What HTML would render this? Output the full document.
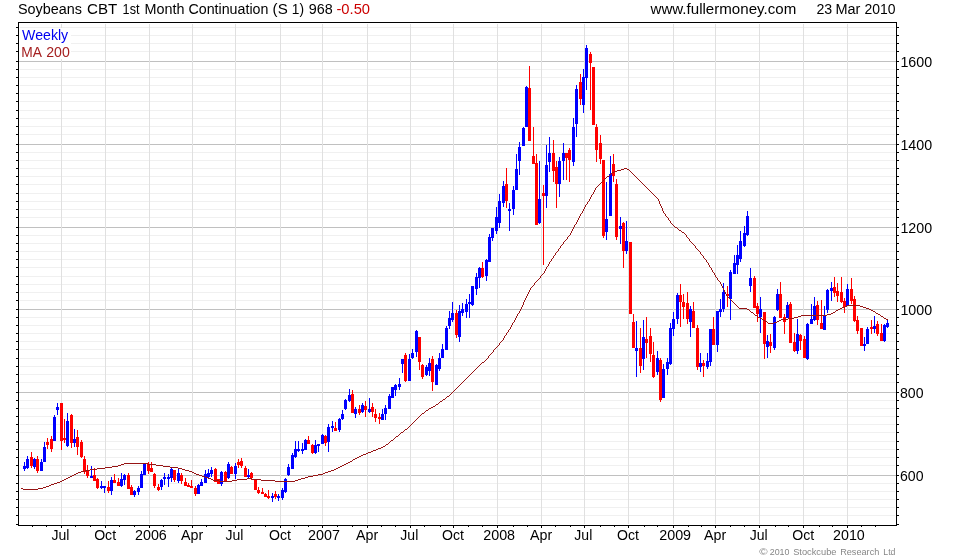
<!DOCTYPE html>
<html><head><meta charset="utf-8"><title>Soybeans CBT 1st Month Continuation</title>
<style>html,body{margin:0;padding:0;background:#fff}body{width:980px;height:560px;position:relative;overflow:hidden}</style></head>
<body>
<svg width="980" height="560" viewBox="0 0 980 560" style="position:absolute;left:0;top:0">
<rect width="980" height="560" fill="#fff"/>
<g shape-rendering="crispEdges">
<rect x="20" y="27" width="875" height="1" fill="#f0f0f0"/>
<rect x="20" y="35" width="875" height="1" fill="#f0f0f0"/>
<rect x="20" y="43" width="875" height="1" fill="#f0f0f0"/>
<rect x="20" y="51" width="875" height="1" fill="#f0f0f0"/>
<rect x="20" y="69" width="875" height="1" fill="#f0f0f0"/>
<rect x="20" y="77" width="875" height="1" fill="#f0f0f0"/>
<rect x="20" y="85" width="875" height="1" fill="#f0f0f0"/>
<rect x="20" y="93" width="875" height="1" fill="#f0f0f0"/>
<rect x="20" y="101" width="875" height="1" fill="#f0f0f0"/>
<rect x="20" y="110" width="875" height="1" fill="#f0f0f0"/>
<rect x="20" y="118" width="875" height="1" fill="#f0f0f0"/>
<rect x="20" y="126" width="875" height="1" fill="#f0f0f0"/>
<rect x="20" y="134" width="875" height="1" fill="#f0f0f0"/>
<rect x="20" y="152" width="875" height="1" fill="#f0f0f0"/>
<rect x="20" y="160" width="875" height="1" fill="#f0f0f0"/>
<rect x="20" y="168" width="875" height="1" fill="#f0f0f0"/>
<rect x="20" y="176" width="875" height="1" fill="#f0f0f0"/>
<rect x="20" y="184" width="875" height="1" fill="#f0f0f0"/>
<rect x="20" y="193" width="875" height="1" fill="#f0f0f0"/>
<rect x="20" y="201" width="875" height="1" fill="#f0f0f0"/>
<rect x="20" y="209" width="875" height="1" fill="#f0f0f0"/>
<rect x="20" y="217" width="875" height="1" fill="#f0f0f0"/>
<rect x="20" y="235" width="875" height="1" fill="#f0f0f0"/>
<rect x="20" y="243" width="875" height="1" fill="#f0f0f0"/>
<rect x="20" y="251" width="875" height="1" fill="#f0f0f0"/>
<rect x="20" y="259" width="875" height="1" fill="#f0f0f0"/>
<rect x="20" y="267" width="875" height="1" fill="#f0f0f0"/>
<rect x="20" y="276" width="875" height="1" fill="#f0f0f0"/>
<rect x="20" y="284" width="875" height="1" fill="#f0f0f0"/>
<rect x="20" y="292" width="875" height="1" fill="#f0f0f0"/>
<rect x="20" y="300" width="875" height="1" fill="#f0f0f0"/>
<rect x="20" y="317" width="875" height="1" fill="#f0f0f0"/>
<rect x="20" y="325" width="875" height="1" fill="#f0f0f0"/>
<rect x="20" y="333" width="875" height="1" fill="#f0f0f0"/>
<rect x="20" y="341" width="875" height="1" fill="#f0f0f0"/>
<rect x="20" y="349" width="875" height="1" fill="#f0f0f0"/>
<rect x="20" y="358" width="875" height="1" fill="#f0f0f0"/>
<rect x="20" y="366" width="875" height="1" fill="#f0f0f0"/>
<rect x="20" y="374" width="875" height="1" fill="#f0f0f0"/>
<rect x="20" y="382" width="875" height="1" fill="#f0f0f0"/>
<rect x="20" y="400" width="875" height="1" fill="#f0f0f0"/>
<rect x="20" y="408" width="875" height="1" fill="#f0f0f0"/>
<rect x="20" y="416" width="875" height="1" fill="#f0f0f0"/>
<rect x="20" y="424" width="875" height="1" fill="#f0f0f0"/>
<rect x="20" y="432" width="875" height="1" fill="#f0f0f0"/>
<rect x="20" y="441" width="875" height="1" fill="#f0f0f0"/>
<rect x="20" y="449" width="875" height="1" fill="#f0f0f0"/>
<rect x="20" y="457" width="875" height="1" fill="#f0f0f0"/>
<rect x="20" y="465" width="875" height="1" fill="#f0f0f0"/>
<rect x="20" y="483" width="875" height="1" fill="#f0f0f0"/>
<rect x="20" y="491" width="875" height="1" fill="#f0f0f0"/>
<rect x="20" y="499" width="875" height="1" fill="#f0f0f0"/>
<rect x="20" y="507" width="875" height="1" fill="#f0f0f0"/>
<rect x="20" y="515" width="875" height="1" fill="#f0f0f0"/>
<rect x="19" y="61" width="877" height="1" fill="#c0c0c0"/>
<rect x="19" y="144" width="877" height="1" fill="#c0c0c0"/>
<rect x="19" y="227" width="877" height="1" fill="#c0c0c0"/>
<rect x="19" y="309" width="877" height="1" fill="#c0c0c0"/>
<rect x="19" y="392" width="877" height="1" fill="#c0c0c0"/>
<rect x="19" y="475" width="877" height="1" fill="#c0c0c0"/>
<rect x="61" y="24" width="1" height="500" fill="#e0e0e0"/>
<rect x="105" y="24" width="1" height="500" fill="#e0e0e0"/>
<rect x="149" y="24" width="1" height="500" fill="#e0e0e0"/>
<rect x="192" y="24" width="1" height="500" fill="#e0e0e0"/>
<rect x="235" y="24" width="1" height="500" fill="#e0e0e0"/>
<rect x="280" y="24" width="1" height="500" fill="#e0e0e0"/>
<rect x="322" y="24" width="1" height="500" fill="#e0e0e0"/>
<rect x="367" y="24" width="1" height="500" fill="#e0e0e0"/>
<rect x="410" y="24" width="1" height="500" fill="#e0e0e0"/>
<rect x="453" y="24" width="1" height="500" fill="#e0e0e0"/>
<rect x="497" y="24" width="1" height="500" fill="#e0e0e0"/>
<rect x="541" y="24" width="1" height="500" fill="#e0e0e0"/>
<rect x="584" y="24" width="1" height="500" fill="#e0e0e0"/>
<rect x="628" y="24" width="1" height="500" fill="#e0e0e0"/>
<rect x="673" y="24" width="1" height="500" fill="#e0e0e0"/>
<rect x="715" y="24" width="1" height="500" fill="#e0e0e0"/>
<rect x="759" y="24" width="1" height="500" fill="#e0e0e0"/>
<rect x="803" y="24" width="1" height="500" fill="#e0e0e0"/>
<rect x="847" y="24" width="1" height="500" fill="#e0e0e0"/>
</g>
<g shape-rendering="crispEdges">
<rect x="24" y="462" width="1" height="9" fill="#0000ff"/>
<rect x="23" y="466" width="3" height="3" fill="#0000ff"/>
<rect x="27" y="456" width="1" height="13" fill="#0000ff"/>
<rect x="26" y="459" width="3" height="9" fill="#0000ff"/>
<rect x="31" y="452" width="1" height="16" fill="#ff0000"/>
<rect x="30" y="457" width="3" height="9" fill="#ff0000"/>
<rect x="34" y="458" width="1" height="11" fill="#0000ff"/>
<rect x="33" y="459" width="3" height="8" fill="#0000ff"/>
<rect x="37" y="456" width="1" height="17" fill="#ff0000"/>
<rect x="36" y="459" width="3" height="12" fill="#ff0000"/>
<rect x="41" y="459" width="1" height="12" fill="#0000ff"/>
<rect x="40" y="462" width="3" height="9" fill="#0000ff"/>
<rect x="44" y="442" width="1" height="20" fill="#0000ff"/>
<rect x="43" y="447" width="3" height="15" fill="#0000ff"/>
<rect x="47" y="438" width="1" height="11" fill="#ff0000"/>
<rect x="46" y="442" width="3" height="3" fill="#ff0000"/>
<rect x="51" y="436" width="1" height="16" fill="#ff0000"/>
<rect x="50" y="439" width="3" height="10" fill="#ff0000"/>
<rect x="54" y="415" width="1" height="26" fill="#0000ff"/>
<rect x="53" y="417" width="3" height="24" fill="#0000ff"/>
<rect x="57" y="403" width="1" height="12" fill="#0000ff"/>
<rect x="56" y="407" width="3" height="3" fill="#0000ff"/>
<rect x="61" y="403" width="1" height="47" fill="#ff0000"/>
<rect x="60" y="403" width="3" height="38" fill="#ff0000"/>
<rect x="64" y="419" width="1" height="24" fill="#ff0000"/>
<rect x="63" y="438" width="3" height="2" fill="#ff0000"/>
<rect x="67" y="413" width="1" height="34" fill="#0000ff"/>
<rect x="66" y="421" width="3" height="25" fill="#0000ff"/>
<rect x="71" y="414" width="1" height="34" fill="#ff0000"/>
<rect x="70" y="415" width="3" height="28" fill="#ff0000"/>
<rect x="74" y="429" width="1" height="18" fill="#0000ff"/>
<rect x="73" y="439" width="3" height="4" fill="#0000ff"/>
<rect x="77" y="430" width="1" height="25" fill="#ff0000"/>
<rect x="76" y="437" width="3" height="10" fill="#ff0000"/>
<rect x="81" y="440" width="1" height="18" fill="#ff0000"/>
<rect x="80" y="442" width="3" height="15" fill="#ff0000"/>
<rect x="84" y="456" width="1" height="18" fill="#ff0000"/>
<rect x="83" y="459" width="3" height="13" fill="#ff0000"/>
<rect x="87" y="465" width="1" height="13" fill="#ff0000"/>
<rect x="86" y="471" width="3" height="5" fill="#ff0000"/>
<rect x="91" y="466" width="1" height="12" fill="#0000ff"/>
<rect x="90" y="476" width="3" height="2" fill="#0000ff"/>
<rect x="94" y="468" width="1" height="13" fill="#ff0000"/>
<rect x="93" y="475" width="3" height="6" fill="#ff0000"/>
<rect x="97" y="478" width="1" height="11" fill="#ff0000"/>
<rect x="96" y="479" width="3" height="9" fill="#ff0000"/>
<rect x="101" y="481" width="1" height="8" fill="#0000ff"/>
<rect x="100" y="486" width="3" height="2" fill="#0000ff"/>
<rect x="104" y="486" width="1" height="7" fill="#0000ff"/>
<rect x="103" y="486" width="3" height="2" fill="#0000ff"/>
<rect x="108" y="481" width="1" height="12" fill="#ff0000"/>
<rect x="107" y="487" width="3" height="4" fill="#ff0000"/>
<rect x="111" y="477" width="1" height="18" fill="#0000ff"/>
<rect x="110" y="480" width="3" height="11" fill="#0000ff"/>
<rect x="114" y="474" width="1" height="9" fill="#ff0000"/>
<rect x="113" y="480" width="3" height="3" fill="#ff0000"/>
<rect x="118" y="478" width="1" height="8" fill="#ff0000"/>
<rect x="117" y="482" width="3" height="4" fill="#ff0000"/>
<rect x="121" y="473" width="1" height="14" fill="#0000ff"/>
<rect x="120" y="479" width="3" height="7" fill="#0000ff"/>
<rect x="124" y="474" width="1" height="11" fill="#0000ff"/>
<rect x="123" y="475" width="3" height="5" fill="#0000ff"/>
<rect x="128" y="473" width="1" height="16" fill="#ff0000"/>
<rect x="127" y="475" width="3" height="14" fill="#ff0000"/>
<rect x="131" y="485" width="1" height="10" fill="#ff0000"/>
<rect x="130" y="487" width="3" height="8" fill="#ff0000"/>
<rect x="134" y="490" width="1" height="7" fill="#0000ff"/>
<rect x="133" y="491" width="3" height="4" fill="#0000ff"/>
<rect x="138" y="486" width="1" height="9" fill="#0000ff"/>
<rect x="137" y="488" width="3" height="4" fill="#0000ff"/>
<rect x="141" y="471" width="1" height="17" fill="#0000ff"/>
<rect x="140" y="474" width="3" height="14" fill="#0000ff"/>
<rect x="144" y="463" width="1" height="12" fill="#0000ff"/>
<rect x="143" y="464" width="3" height="11" fill="#0000ff"/>
<rect x="148" y="462" width="1" height="12" fill="#ff0000"/>
<rect x="147" y="464" width="3" height="7" fill="#ff0000"/>
<rect x="151" y="462" width="1" height="10" fill="#ff0000"/>
<rect x="150" y="468" width="3" height="4" fill="#ff0000"/>
<rect x="154" y="473" width="1" height="15" fill="#ff0000"/>
<rect x="153" y="474" width="3" height="12" fill="#ff0000"/>
<rect x="158" y="484" width="1" height="7" fill="#ff0000"/>
<rect x="157" y="487" width="3" height="3" fill="#ff0000"/>
<rect x="161" y="479" width="1" height="11" fill="#0000ff"/>
<rect x="160" y="480" width="3" height="7" fill="#0000ff"/>
<rect x="164" y="473" width="1" height="12" fill="#0000ff"/>
<rect x="163" y="477" width="3" height="2" fill="#0000ff"/>
<rect x="168" y="474" width="1" height="13" fill="#0000ff"/>
<rect x="167" y="477" width="3" height="2" fill="#0000ff"/>
<rect x="171" y="468" width="1" height="14" fill="#0000ff"/>
<rect x="170" y="469" width="3" height="9" fill="#0000ff"/>
<rect x="174" y="470" width="1" height="12" fill="#ff0000"/>
<rect x="173" y="470" width="3" height="10" fill="#ff0000"/>
<rect x="178" y="469" width="1" height="14" fill="#0000ff"/>
<rect x="177" y="473" width="3" height="8" fill="#0000ff"/>
<rect x="181" y="473" width="1" height="11" fill="#ff0000"/>
<rect x="180" y="475" width="3" height="6" fill="#ff0000"/>
<rect x="185" y="478" width="1" height="8" fill="#ff0000"/>
<rect x="184" y="482" width="3" height="4" fill="#ff0000"/>
<rect x="188" y="483" width="1" height="4" fill="#ff0000"/>
<rect x="187" y="485" width="3" height="2" fill="#ff0000"/>
<rect x="191" y="480" width="1" height="8" fill="#ff0000"/>
<rect x="190" y="486" width="3" height="2" fill="#ff0000"/>
<rect x="195" y="486" width="1" height="10" fill="#ff0000"/>
<rect x="194" y="488" width="3" height="6" fill="#ff0000"/>
<rect x="198" y="484" width="1" height="10" fill="#0000ff"/>
<rect x="197" y="485" width="3" height="9" fill="#0000ff"/>
<rect x="201" y="479" width="1" height="7" fill="#0000ff"/>
<rect x="200" y="482" width="3" height="4" fill="#0000ff"/>
<rect x="205" y="470" width="1" height="13" fill="#0000ff"/>
<rect x="204" y="474" width="3" height="9" fill="#0000ff"/>
<rect x="208" y="469" width="1" height="9" fill="#0000ff"/>
<rect x="207" y="473" width="3" height="4" fill="#0000ff"/>
<rect x="211" y="467" width="1" height="10" fill="#0000ff"/>
<rect x="210" y="470" width="3" height="4" fill="#0000ff"/>
<rect x="215" y="468" width="1" height="14" fill="#ff0000"/>
<rect x="214" y="469" width="3" height="13" fill="#ff0000"/>
<rect x="218" y="479" width="1" height="5" fill="#ff0000"/>
<rect x="217" y="479" width="3" height="5" fill="#ff0000"/>
<rect x="221" y="471" width="1" height="15" fill="#0000ff"/>
<rect x="220" y="472" width="3" height="12" fill="#0000ff"/>
<rect x="225" y="471" width="1" height="10" fill="#ff0000"/>
<rect x="224" y="472" width="3" height="9" fill="#ff0000"/>
<rect x="228" y="462" width="1" height="17" fill="#0000ff"/>
<rect x="227" y="464" width="3" height="14" fill="#0000ff"/>
<rect x="231" y="466" width="1" height="8" fill="#ff0000"/>
<rect x="230" y="467" width="3" height="7" fill="#ff0000"/>
<rect x="235" y="463" width="1" height="16" fill="#0000ff"/>
<rect x="234" y="466" width="3" height="8" fill="#0000ff"/>
<rect x="238" y="459" width="1" height="9" fill="#ff0000"/>
<rect x="237" y="462" width="3" height="3" fill="#ff0000"/>
<rect x="241" y="458" width="1" height="10" fill="#ff0000"/>
<rect x="240" y="461" width="3" height="5" fill="#ff0000"/>
<rect x="245" y="466" width="1" height="11" fill="#ff0000"/>
<rect x="244" y="468" width="3" height="9" fill="#ff0000"/>
<rect x="248" y="469" width="1" height="10" fill="#0000ff"/>
<rect x="247" y="475" width="3" height="2" fill="#0000ff"/>
<rect x="251" y="472" width="1" height="8" fill="#ff0000"/>
<rect x="250" y="473" width="3" height="5" fill="#ff0000"/>
<rect x="255" y="480" width="1" height="10" fill="#ff0000"/>
<rect x="254" y="480" width="3" height="10" fill="#ff0000"/>
<rect x="258" y="487" width="1" height="7" fill="#ff0000"/>
<rect x="257" y="490" width="3" height="3" fill="#ff0000"/>
<rect x="262" y="488" width="1" height="6" fill="#ff0000"/>
<rect x="261" y="492" width="3" height="2" fill="#ff0000"/>
<rect x="265" y="493" width="1" height="4" fill="#ff0000"/>
<rect x="264" y="494" width="3" height="3" fill="#ff0000"/>
<rect x="268" y="490" width="1" height="9" fill="#ff0000"/>
<rect x="267" y="496" width="3" height="2" fill="#ff0000"/>
<rect x="272" y="493" width="1" height="9" fill="#0000ff"/>
<rect x="271" y="496" width="3" height="2" fill="#0000ff"/>
<rect x="275" y="491" width="1" height="8" fill="#ff0000"/>
<rect x="274" y="494" width="3" height="3" fill="#ff0000"/>
<rect x="278" y="494" width="1" height="7" fill="#0000ff"/>
<rect x="277" y="496" width="3" height="2" fill="#0000ff"/>
<rect x="282" y="488" width="1" height="12" fill="#0000ff"/>
<rect x="281" y="490" width="3" height="8" fill="#0000ff"/>
<rect x="285" y="478" width="1" height="15" fill="#0000ff"/>
<rect x="284" y="479" width="3" height="13" fill="#0000ff"/>
<rect x="288" y="464" width="1" height="12" fill="#0000ff"/>
<rect x="287" y="467" width="3" height="8" fill="#0000ff"/>
<rect x="292" y="453" width="1" height="16" fill="#0000ff"/>
<rect x="291" y="455" width="3" height="14" fill="#0000ff"/>
<rect x="295" y="441" width="1" height="17" fill="#0000ff"/>
<rect x="294" y="449" width="3" height="8" fill="#0000ff"/>
<rect x="298" y="441" width="1" height="11" fill="#0000ff"/>
<rect x="297" y="449" width="3" height="2" fill="#0000ff"/>
<rect x="302" y="443" width="1" height="11" fill="#0000ff"/>
<rect x="301" y="449" width="3" height="2" fill="#0000ff"/>
<rect x="305" y="439" width="1" height="11" fill="#0000ff"/>
<rect x="304" y="440" width="3" height="10" fill="#0000ff"/>
<rect x="308" y="436" width="1" height="8" fill="#ff0000"/>
<rect x="307" y="440" width="3" height="4" fill="#ff0000"/>
<rect x="312" y="444" width="1" height="10" fill="#ff0000"/>
<rect x="311" y="445" width="3" height="8" fill="#ff0000"/>
<rect x="315" y="440" width="1" height="14" fill="#0000ff"/>
<rect x="314" y="445" width="3" height="8" fill="#0000ff"/>
<rect x="318" y="444" width="1" height="8" fill="#0000ff"/>
<rect x="317" y="444" width="3" height="2" fill="#0000ff"/>
<rect x="322" y="434" width="1" height="10" fill="#0000ff"/>
<rect x="321" y="435" width="3" height="9" fill="#0000ff"/>
<rect x="325" y="435" width="1" height="11" fill="#ff0000"/>
<rect x="324" y="436" width="3" height="7" fill="#ff0000"/>
<rect x="328" y="424" width="1" height="28" fill="#0000ff"/>
<rect x="327" y="427" width="3" height="15" fill="#0000ff"/>
<rect x="332" y="421" width="1" height="11" fill="#0000ff"/>
<rect x="331" y="426" width="3" height="2" fill="#0000ff"/>
<rect x="335" y="422" width="1" height="9" fill="#ff0000"/>
<rect x="334" y="428" width="3" height="3" fill="#ff0000"/>
<rect x="339" y="418" width="1" height="14" fill="#0000ff"/>
<rect x="338" y="419" width="3" height="11" fill="#0000ff"/>
<rect x="342" y="410" width="1" height="10" fill="#0000ff"/>
<rect x="341" y="414" width="3" height="5" fill="#0000ff"/>
<rect x="345" y="399" width="1" height="11" fill="#0000ff"/>
<rect x="344" y="400" width="3" height="9" fill="#0000ff"/>
<rect x="349" y="389" width="1" height="13" fill="#0000ff"/>
<rect x="348" y="395" width="3" height="6" fill="#0000ff"/>
<rect x="352" y="390" width="1" height="23" fill="#ff0000"/>
<rect x="351" y="394" width="3" height="19" fill="#ff0000"/>
<rect x="355" y="407" width="1" height="11" fill="#0000ff"/>
<rect x="354" y="409" width="3" height="5" fill="#0000ff"/>
<rect x="359" y="405" width="1" height="10" fill="#ff0000"/>
<rect x="358" y="409" width="3" height="4" fill="#ff0000"/>
<rect x="362" y="403" width="1" height="10" fill="#0000ff"/>
<rect x="361" y="405" width="3" height="7" fill="#0000ff"/>
<rect x="365" y="401" width="1" height="16" fill="#ff0000"/>
<rect x="364" y="406" width="3" height="4" fill="#ff0000"/>
<rect x="369" y="398" width="1" height="15" fill="#0000ff"/>
<rect x="368" y="409" width="3" height="3" fill="#0000ff"/>
<rect x="372" y="403" width="1" height="14" fill="#ff0000"/>
<rect x="371" y="407" width="3" height="5" fill="#ff0000"/>
<rect x="375" y="409" width="1" height="13" fill="#ff0000"/>
<rect x="374" y="414" width="3" height="4" fill="#ff0000"/>
<rect x="379" y="413" width="1" height="11" fill="#ff0000"/>
<rect x="378" y="417" width="3" height="2" fill="#ff0000"/>
<rect x="382" y="409" width="1" height="11" fill="#0000ff"/>
<rect x="381" y="414" width="3" height="6" fill="#0000ff"/>
<rect x="385" y="405" width="1" height="15" fill="#0000ff"/>
<rect x="384" y="408" width="3" height="6" fill="#0000ff"/>
<rect x="389" y="394" width="1" height="15" fill="#0000ff"/>
<rect x="388" y="396" width="3" height="13" fill="#0000ff"/>
<rect x="392" y="387" width="1" height="11" fill="#0000ff"/>
<rect x="391" y="387" width="3" height="11" fill="#0000ff"/>
<rect x="395" y="384" width="1" height="12" fill="#0000ff"/>
<rect x="394" y="385" width="3" height="5" fill="#0000ff"/>
<rect x="399" y="378" width="1" height="12" fill="#0000ff"/>
<rect x="398" y="384" width="3" height="3" fill="#0000ff"/>
<rect x="402" y="359" width="1" height="14" fill="#0000ff"/>
<rect x="401" y="359" width="3" height="5" fill="#0000ff"/>
<rect x="405" y="353" width="1" height="29" fill="#ff0000"/>
<rect x="404" y="355" width="3" height="26" fill="#ff0000"/>
<rect x="409" y="354" width="1" height="27" fill="#0000ff"/>
<rect x="408" y="359" width="3" height="22" fill="#0000ff"/>
<rect x="412" y="349" width="1" height="10" fill="#0000ff"/>
<rect x="411" y="353" width="3" height="5" fill="#0000ff"/>
<rect x="416" y="330" width="1" height="27" fill="#0000ff"/>
<rect x="415" y="331" width="3" height="21" fill="#0000ff"/>
<rect x="419" y="337" width="1" height="33" fill="#ff0000"/>
<rect x="418" y="337" width="3" height="25" fill="#ff0000"/>
<rect x="422" y="364" width="1" height="15" fill="#ff0000"/>
<rect x="421" y="365" width="3" height="12" fill="#ff0000"/>
<rect x="426" y="365" width="1" height="11" fill="#0000ff"/>
<rect x="425" y="367" width="3" height="8" fill="#0000ff"/>
<rect x="429" y="358" width="1" height="18" fill="#0000ff"/>
<rect x="428" y="363" width="3" height="8" fill="#0000ff"/>
<rect x="432" y="356" width="1" height="35" fill="#ff0000"/>
<rect x="431" y="359" width="3" height="23" fill="#ff0000"/>
<rect x="436" y="364" width="1" height="21" fill="#0000ff"/>
<rect x="435" y="365" width="3" height="20" fill="#0000ff"/>
<rect x="439" y="353" width="1" height="18" fill="#0000ff"/>
<rect x="438" y="358" width="3" height="11" fill="#0000ff"/>
<rect x="442" y="344" width="1" height="14" fill="#0000ff"/>
<rect x="441" y="349" width="3" height="9" fill="#0000ff"/>
<rect x="446" y="326" width="1" height="24" fill="#0000ff"/>
<rect x="445" y="328" width="3" height="22" fill="#0000ff"/>
<rect x="449" y="311" width="1" height="18" fill="#0000ff"/>
<rect x="448" y="318" width="3" height="8" fill="#0000ff"/>
<rect x="452" y="302" width="1" height="20" fill="#0000ff"/>
<rect x="451" y="313" width="3" height="7" fill="#0000ff"/>
<rect x="456" y="310" width="1" height="28" fill="#ff0000"/>
<rect x="455" y="313" width="3" height="22" fill="#ff0000"/>
<rect x="459" y="305" width="1" height="37" fill="#0000ff"/>
<rect x="458" y="311" width="3" height="26" fill="#0000ff"/>
<rect x="462" y="303" width="1" height="13" fill="#0000ff"/>
<rect x="461" y="309" width="3" height="4" fill="#0000ff"/>
<rect x="466" y="299" width="1" height="19" fill="#0000ff"/>
<rect x="465" y="304" width="3" height="8" fill="#0000ff"/>
<rect x="469" y="294" width="1" height="24" fill="#0000ff"/>
<rect x="468" y="302" width="3" height="2" fill="#0000ff"/>
<rect x="472" y="286" width="1" height="20" fill="#0000ff"/>
<rect x="471" y="286" width="3" height="19" fill="#0000ff"/>
<rect x="476" y="273" width="1" height="22" fill="#0000ff"/>
<rect x="475" y="277" width="3" height="12" fill="#0000ff"/>
<rect x="479" y="267" width="1" height="21" fill="#0000ff"/>
<rect x="478" y="268" width="3" height="10" fill="#0000ff"/>
<rect x="482" y="262" width="1" height="16" fill="#ff0000"/>
<rect x="481" y="268" width="3" height="9" fill="#ff0000"/>
<rect x="486" y="259" width="1" height="22" fill="#0000ff"/>
<rect x="485" y="260" width="3" height="16" fill="#0000ff"/>
<rect x="489" y="234" width="1" height="28" fill="#0000ff"/>
<rect x="488" y="237" width="3" height="25" fill="#0000ff"/>
<rect x="492" y="228" width="1" height="13" fill="#0000ff"/>
<rect x="491" y="228" width="3" height="10" fill="#0000ff"/>
<rect x="496" y="207" width="1" height="27" fill="#0000ff"/>
<rect x="495" y="217" width="3" height="14" fill="#0000ff"/>
<rect x="499" y="194" width="1" height="34" fill="#0000ff"/>
<rect x="498" y="201" width="3" height="22" fill="#0000ff"/>
<rect x="503" y="181" width="1" height="26" fill="#0000ff"/>
<rect x="502" y="186" width="3" height="17" fill="#0000ff"/>
<rect x="506" y="168" width="1" height="40" fill="#ff0000"/>
<rect x="505" y="184" width="3" height="17" fill="#ff0000"/>
<rect x="509" y="203" width="1" height="28" fill="#0000ff"/>
<rect x="508" y="209" width="3" height="2" fill="#0000ff"/>
<rect x="513" y="186" width="1" height="29" fill="#0000ff"/>
<rect x="512" y="190" width="3" height="19" fill="#0000ff"/>
<rect x="516" y="154" width="1" height="36" fill="#0000ff"/>
<rect x="515" y="169" width="3" height="21" fill="#0000ff"/>
<rect x="519" y="142" width="1" height="33" fill="#0000ff"/>
<rect x="518" y="147" width="3" height="14" fill="#0000ff"/>
<rect x="523" y="127" width="1" height="19" fill="#0000ff"/>
<rect x="522" y="128" width="3" height="18" fill="#0000ff"/>
<rect x="526" y="86" width="1" height="41" fill="#0000ff"/>
<rect x="525" y="87" width="3" height="40" fill="#0000ff"/>
<rect x="529" y="66" width="1" height="75" fill="#ff0000"/>
<rect x="528" y="88" width="3" height="53" fill="#ff0000"/>
<rect x="533" y="127" width="1" height="37" fill="#ff0000"/>
<rect x="532" y="156" width="3" height="8" fill="#ff0000"/>
<rect x="536" y="154" width="1" height="71" fill="#ff0000"/>
<rect x="535" y="163" width="3" height="62" fill="#ff0000"/>
<rect x="539" y="161" width="1" height="63" fill="#0000ff"/>
<rect x="538" y="199" width="3" height="24" fill="#0000ff"/>
<rect x="543" y="185" width="1" height="80" fill="#ff0000"/>
<rect x="542" y="193" width="3" height="3" fill="#ff0000"/>
<rect x="546" y="145" width="1" height="63" fill="#0000ff"/>
<rect x="545" y="165" width="3" height="31" fill="#0000ff"/>
<rect x="549" y="137" width="1" height="35" fill="#0000ff"/>
<rect x="548" y="153" width="3" height="9" fill="#0000ff"/>
<rect x="553" y="140" width="1" height="42" fill="#ff0000"/>
<rect x="552" y="153" width="3" height="18" fill="#ff0000"/>
<rect x="556" y="161" width="1" height="47" fill="#ff0000"/>
<rect x="555" y="167" width="3" height="17" fill="#ff0000"/>
<rect x="559" y="157" width="1" height="40" fill="#0000ff"/>
<rect x="558" y="161" width="3" height="23" fill="#0000ff"/>
<rect x="563" y="143" width="1" height="37" fill="#0000ff"/>
<rect x="562" y="153" width="3" height="8" fill="#0000ff"/>
<rect x="566" y="153" width="1" height="27" fill="#ff0000"/>
<rect x="565" y="153" width="3" height="5" fill="#ff0000"/>
<rect x="569" y="148" width="1" height="34" fill="#ff0000"/>
<rect x="568" y="150" width="3" height="10" fill="#ff0000"/>
<rect x="573" y="118" width="1" height="48" fill="#0000ff"/>
<rect x="572" y="127" width="3" height="35" fill="#0000ff"/>
<rect x="576" y="85" width="1" height="52" fill="#0000ff"/>
<rect x="575" y="89" width="3" height="35" fill="#0000ff"/>
<rect x="580" y="74" width="1" height="31" fill="#ff0000"/>
<rect x="579" y="82" width="3" height="17" fill="#ff0000"/>
<rect x="583" y="69" width="1" height="44" fill="#0000ff"/>
<rect x="582" y="77" width="3" height="28" fill="#0000ff"/>
<rect x="586" y="45" width="1" height="45" fill="#0000ff"/>
<rect x="585" y="48" width="3" height="30" fill="#0000ff"/>
<rect x="590" y="52" width="1" height="58" fill="#ff0000"/>
<rect x="589" y="54" width="3" height="9" fill="#ff0000"/>
<rect x="593" y="67" width="1" height="58" fill="#ff0000"/>
<rect x="592" y="67" width="3" height="58" fill="#ff0000"/>
<rect x="596" y="124" width="1" height="38" fill="#ff0000"/>
<rect x="595" y="127" width="3" height="23" fill="#ff0000"/>
<rect x="600" y="135" width="1" height="29" fill="#ff0000"/>
<rect x="599" y="143" width="3" height="16" fill="#ff0000"/>
<rect x="603" y="160" width="1" height="78" fill="#ff0000"/>
<rect x="602" y="160" width="3" height="76" fill="#ff0000"/>
<rect x="606" y="182" width="1" height="58" fill="#0000ff"/>
<rect x="605" y="219" width="3" height="13" fill="#0000ff"/>
<rect x="610" y="156" width="1" height="60" fill="#0000ff"/>
<rect x="609" y="174" width="3" height="42" fill="#0000ff"/>
<rect x="613" y="154" width="1" height="28" fill="#ff0000"/>
<rect x="612" y="164" width="3" height="12" fill="#ff0000"/>
<rect x="616" y="179" width="1" height="61" fill="#ff0000"/>
<rect x="615" y="184" width="3" height="53" fill="#ff0000"/>
<rect x="620" y="217" width="1" height="27" fill="#0000ff"/>
<rect x="619" y="226" width="3" height="3" fill="#0000ff"/>
<rect x="623" y="222" width="1" height="46" fill="#ff0000"/>
<rect x="622" y="223" width="3" height="28" fill="#ff0000"/>
<rect x="626" y="221" width="1" height="33" fill="#0000ff"/>
<rect x="625" y="241" width="3" height="10" fill="#0000ff"/>
<rect x="630" y="242" width="1" height="72" fill="#ff0000"/>
<rect x="629" y="242" width="3" height="72" fill="#ff0000"/>
<rect x="633" y="314" width="1" height="34" fill="#ff0000"/>
<rect x="632" y="322" width="3" height="26" fill="#ff0000"/>
<rect x="636" y="321" width="1" height="56" fill="#0000ff"/>
<rect x="635" y="348" width="3" height="3" fill="#0000ff"/>
<rect x="640" y="328" width="1" height="45" fill="#ff0000"/>
<rect x="639" y="348" width="3" height="18" fill="#ff0000"/>
<rect x="643" y="320" width="1" height="50" fill="#0000ff"/>
<rect x="642" y="337" width="3" height="22" fill="#0000ff"/>
<rect x="646" y="317" width="1" height="41" fill="#ff0000"/>
<rect x="645" y="339" width="3" height="4" fill="#ff0000"/>
<rect x="650" y="328" width="1" height="34" fill="#ff0000"/>
<rect x="649" y="336" width="3" height="18" fill="#ff0000"/>
<rect x="653" y="342" width="1" height="36" fill="#ff0000"/>
<rect x="652" y="355" width="3" height="22" fill="#ff0000"/>
<rect x="657" y="351" width="1" height="24" fill="#0000ff"/>
<rect x="656" y="358" width="3" height="14" fill="#0000ff"/>
<rect x="660" y="358" width="1" height="44" fill="#ff0000"/>
<rect x="659" y="360" width="3" height="40" fill="#ff0000"/>
<rect x="663" y="364" width="1" height="34" fill="#0000ff"/>
<rect x="662" y="369" width="3" height="29" fill="#0000ff"/>
<rect x="667" y="358" width="1" height="17" fill="#0000ff"/>
<rect x="666" y="362" width="3" height="7" fill="#0000ff"/>
<rect x="670" y="323" width="1" height="42" fill="#0000ff"/>
<rect x="669" y="328" width="3" height="36" fill="#0000ff"/>
<rect x="673" y="312" width="1" height="24" fill="#0000ff"/>
<rect x="672" y="319" width="3" height="10" fill="#0000ff"/>
<rect x="677" y="293" width="1" height="31" fill="#0000ff"/>
<rect x="676" y="295" width="3" height="24" fill="#0000ff"/>
<rect x="680" y="284" width="1" height="43" fill="#ff0000"/>
<rect x="679" y="295" width="3" height="7" fill="#ff0000"/>
<rect x="683" y="294" width="1" height="25" fill="#ff0000"/>
<rect x="682" y="302" width="3" height="5" fill="#ff0000"/>
<rect x="687" y="292" width="1" height="32" fill="#ff0000"/>
<rect x="686" y="303" width="3" height="16" fill="#ff0000"/>
<rect x="690" y="306" width="1" height="31" fill="#0000ff"/>
<rect x="689" y="309" width="3" height="13" fill="#0000ff"/>
<rect x="693" y="302" width="1" height="26" fill="#ff0000"/>
<rect x="692" y="311" width="3" height="17" fill="#ff0000"/>
<rect x="697" y="325" width="1" height="45" fill="#ff0000"/>
<rect x="696" y="328" width="3" height="39" fill="#ff0000"/>
<rect x="700" y="353" width="1" height="19" fill="#0000ff"/>
<rect x="699" y="363" width="3" height="4" fill="#0000ff"/>
<rect x="703" y="360" width="1" height="17" fill="#ff0000"/>
<rect x="702" y="363" width="3" height="3" fill="#ff0000"/>
<rect x="707" y="353" width="1" height="16" fill="#0000ff"/>
<rect x="706" y="361" width="3" height="6" fill="#0000ff"/>
<rect x="710" y="329" width="1" height="37" fill="#0000ff"/>
<rect x="709" y="329" width="3" height="33" fill="#0000ff"/>
<rect x="713" y="317" width="1" height="28" fill="#ff0000"/>
<rect x="712" y="329" width="3" height="16" fill="#ff0000"/>
<rect x="717" y="311" width="1" height="41" fill="#0000ff"/>
<rect x="716" y="311" width="3" height="34" fill="#0000ff"/>
<rect x="720" y="299" width="1" height="18" fill="#0000ff"/>
<rect x="719" y="309" width="3" height="3" fill="#0000ff"/>
<rect x="723" y="283" width="1" height="29" fill="#0000ff"/>
<rect x="722" y="292" width="3" height="17" fill="#0000ff"/>
<rect x="727" y="286" width="1" height="21" fill="#ff0000"/>
<rect x="726" y="294" width="3" height="2" fill="#ff0000"/>
<rect x="730" y="270" width="1" height="50" fill="#0000ff"/>
<rect x="729" y="272" width="3" height="27" fill="#0000ff"/>
<rect x="734" y="255" width="1" height="19" fill="#0000ff"/>
<rect x="733" y="263" width="3" height="11" fill="#0000ff"/>
<rect x="737" y="245" width="1" height="29" fill="#0000ff"/>
<rect x="736" y="255" width="3" height="10" fill="#0000ff"/>
<rect x="740" y="231" width="1" height="31" fill="#0000ff"/>
<rect x="739" y="241" width="3" height="18" fill="#0000ff"/>
<rect x="744" y="226" width="1" height="21" fill="#0000ff"/>
<rect x="743" y="233" width="3" height="13" fill="#0000ff"/>
<rect x="747" y="211" width="1" height="25" fill="#0000ff"/>
<rect x="746" y="216" width="3" height="19" fill="#0000ff"/>
<rect x="750" y="268" width="1" height="24" fill="#0000ff"/>
<rect x="749" y="278" width="3" height="8" fill="#0000ff"/>
<rect x="754" y="276" width="1" height="32" fill="#ff0000"/>
<rect x="753" y="278" width="3" height="30" fill="#ff0000"/>
<rect x="757" y="303" width="1" height="19" fill="#ff0000"/>
<rect x="756" y="306" width="3" height="8" fill="#ff0000"/>
<rect x="760" y="297" width="1" height="36" fill="#0000ff"/>
<rect x="759" y="309" width="3" height="8" fill="#0000ff"/>
<rect x="764" y="312" width="1" height="47" fill="#ff0000"/>
<rect x="763" y="312" width="3" height="32" fill="#ff0000"/>
<rect x="767" y="335" width="1" height="23" fill="#0000ff"/>
<rect x="766" y="341" width="3" height="6" fill="#0000ff"/>
<rect x="770" y="334" width="1" height="19" fill="#ff0000"/>
<rect x="769" y="342" width="3" height="4" fill="#ff0000"/>
<rect x="774" y="316" width="1" height="34" fill="#0000ff"/>
<rect x="773" y="317" width="3" height="31" fill="#0000ff"/>
<rect x="777" y="289" width="1" height="22" fill="#0000ff"/>
<rect x="776" y="294" width="3" height="16" fill="#0000ff"/>
<rect x="780" y="282" width="1" height="36" fill="#ff0000"/>
<rect x="779" y="294" width="3" height="24" fill="#ff0000"/>
<rect x="784" y="314" width="1" height="20" fill="#ff0000"/>
<rect x="783" y="317" width="3" height="5" fill="#ff0000"/>
<rect x="787" y="302" width="1" height="16" fill="#0000ff"/>
<rect x="786" y="305" width="3" height="13" fill="#0000ff"/>
<rect x="790" y="302" width="1" height="41" fill="#ff0000"/>
<rect x="789" y="304" width="3" height="39" fill="#ff0000"/>
<rect x="794" y="333" width="1" height="19" fill="#ff0000"/>
<rect x="793" y="342" width="3" height="9" fill="#ff0000"/>
<rect x="797" y="319" width="1" height="35" fill="#0000ff"/>
<rect x="796" y="334" width="3" height="17" fill="#0000ff"/>
<rect x="800" y="334" width="1" height="16" fill="#ff0000"/>
<rect x="799" y="335" width="3" height="6" fill="#ff0000"/>
<rect x="804" y="336" width="1" height="22" fill="#ff0000"/>
<rect x="803" y="339" width="3" height="19" fill="#ff0000"/>
<rect x="807" y="323" width="1" height="37" fill="#0000ff"/>
<rect x="806" y="324" width="3" height="35" fill="#0000ff"/>
<rect x="811" y="304" width="1" height="20" fill="#0000ff"/>
<rect x="810" y="319" width="3" height="5" fill="#0000ff"/>
<rect x="814" y="297" width="1" height="24" fill="#0000ff"/>
<rect x="813" y="306" width="3" height="14" fill="#0000ff"/>
<rect x="817" y="301" width="1" height="24" fill="#ff0000"/>
<rect x="816" y="305" width="3" height="15" fill="#ff0000"/>
<rect x="821" y="300" width="1" height="29" fill="#ff0000"/>
<rect x="820" y="323" width="3" height="6" fill="#ff0000"/>
<rect x="824" y="306" width="1" height="24" fill="#0000ff"/>
<rect x="823" y="316" width="3" height="14" fill="#0000ff"/>
<rect x="827" y="289" width="1" height="24" fill="#0000ff"/>
<rect x="826" y="290" width="3" height="20" fill="#0000ff"/>
<rect x="831" y="282" width="1" height="19" fill="#0000ff"/>
<rect x="830" y="288" width="3" height="3" fill="#0000ff"/>
<rect x="834" y="277" width="1" height="20" fill="#ff0000"/>
<rect x="833" y="287" width="3" height="6" fill="#ff0000"/>
<rect x="837" y="283" width="1" height="19" fill="#ff0000"/>
<rect x="836" y="291" width="3" height="5" fill="#ff0000"/>
<rect x="841" y="277" width="1" height="26" fill="#ff0000"/>
<rect x="840" y="292" width="3" height="10" fill="#ff0000"/>
<rect x="844" y="298" width="1" height="15" fill="#ff0000"/>
<rect x="843" y="301" width="3" height="6" fill="#ff0000"/>
<rect x="847" y="284" width="1" height="22" fill="#0000ff"/>
<rect x="846" y="289" width="3" height="17" fill="#0000ff"/>
<rect x="851" y="278" width="1" height="26" fill="#ff0000"/>
<rect x="850" y="289" width="3" height="12" fill="#ff0000"/>
<rect x="854" y="296" width="1" height="26" fill="#ff0000"/>
<rect x="853" y="299" width="3" height="22" fill="#ff0000"/>
<rect x="857" y="316" width="1" height="18" fill="#ff0000"/>
<rect x="856" y="320" width="3" height="11" fill="#ff0000"/>
<rect x="861" y="328" width="1" height="18" fill="#ff0000"/>
<rect x="860" y="328" width="3" height="18" fill="#ff0000"/>
<rect x="864" y="337" width="1" height="14" fill="#0000ff"/>
<rect x="863" y="344" width="3" height="2" fill="#0000ff"/>
<rect x="867" y="327" width="1" height="17" fill="#0000ff"/>
<rect x="866" y="329" width="3" height="15" fill="#0000ff"/>
<rect x="871" y="320" width="1" height="14" fill="#ff0000"/>
<rect x="870" y="327" width="3" height="2" fill="#ff0000"/>
<rect x="874" y="316" width="1" height="17" fill="#0000ff"/>
<rect x="873" y="326" width="3" height="3" fill="#0000ff"/>
<rect x="877" y="321" width="1" height="15" fill="#ff0000"/>
<rect x="876" y="324" width="3" height="10" fill="#ff0000"/>
<rect x="881" y="324" width="1" height="17" fill="#ff0000"/>
<rect x="880" y="333" width="3" height="8" fill="#ff0000"/>
<rect x="884" y="324" width="1" height="18" fill="#0000ff"/>
<rect x="883" y="325" width="3" height="16" fill="#0000ff"/>
<rect x="887" y="319" width="1" height="9" fill="#0000ff"/>
<rect x="886" y="323" width="3" height="4" fill="#0000ff"/>
</g>
<path d="M21 488h1v1h-1zM22 488h1v1h-1zM23 489h1v1h-1zM24 489h1v1h-1zM25 489h1v1h-1zM26 489h1v1h-1zM27 489h1v1h-1zM28 489h1v1h-1zM29 489h1v1h-1zM30 489h1v1h-1zM31 489h1v1h-1zM32 489h1v1h-1zM33 489h1v1h-1zM34 489h1v1h-1zM35 489h1v1h-1zM36 489h1v1h-1zM37 489h1v1h-1zM38 488h1v1h-1zM39 488h1v1h-1zM40 488h1v1h-1zM41 488h1v1h-1zM42 488h1v1h-1zM43 487h1v1h-1zM44 487h1v1h-1zM45 487h1v1h-1zM46 486h1v1h-1zM47 486h1v1h-1zM48 486h1v1h-1zM49 485h1v1h-1zM50 485h1v1h-1zM51 484h1v1h-1zM52 484h1v1h-1zM53 484h1v1h-1zM54 483h1v1h-1zM55 483h1v1h-1zM56 483h1v1h-1zM57 482h1v1h-1zM58 482h1v1h-1zM59 482h1v1h-1zM60 481h1v1h-1zM61 481h1v1h-1zM62 480h1v1h-1zM63 480h1v1h-1zM64 479h1v1h-1zM65 479h1v1h-1zM66 478h1v1h-1zM67 478h1v1h-1zM68 477h1v1h-1zM69 477h1v1h-1zM70 476h1v1h-1zM71 476h1v1h-1zM72 475h1v1h-1zM73 475h1v1h-1zM74 474h1v1h-1zM75 474h1v1h-1zM76 473h1v1h-1zM77 473h1v1h-1zM78 472h1v1h-1zM79 472h1v1h-1zM80 472h1v1h-1zM81 471h1v1h-1zM82 471h1v1h-1zM83 471h1v1h-1zM84 471h1v1h-1zM85 470h1v1h-1zM86 470h1v1h-1zM87 470h1v1h-1zM88 470h1v1h-1zM89 470h1v1h-1zM90 469h1v1h-1zM91 469h1v1h-1zM92 469h1v1h-1zM93 469h1v1h-1zM94 469h1v1h-1zM95 469h1v1h-1zM96 469h1v1h-1zM97 468h1v1h-1zM98 468h1v1h-1zM99 468h1v1h-1zM100 468h1v1h-1zM101 468h1v1h-1zM102 468h1v1h-1zM103 468h1v1h-1zM104 468h1v1h-1zM105 467h1v1h-1zM106 467h1v1h-1zM107 467h1v1h-1zM108 467h1v1h-1zM109 467h1v1h-1zM110 467h1v1h-1zM111 467h1v1h-1zM112 466h1v1h-1zM113 466h1v1h-1zM114 466h1v1h-1zM115 466h1v1h-1zM116 466h1v1h-1zM117 466h1v1h-1zM118 465h1v1h-1zM119 465h1v1h-1zM120 465h1v1h-1zM121 464h1v1h-1zM122 464h1v1h-1zM123 464h1v1h-1zM124 463h1v1h-1zM125 463h1v1h-1zM126 463h1v1h-1zM127 463h1v1h-1zM128 463h1v1h-1zM129 463h1v1h-1zM130 463h1v1h-1zM131 463h1v1h-1zM132 463h1v1h-1zM133 463h1v1h-1zM134 463h1v1h-1zM135 463h1v1h-1zM136 463h1v1h-1zM137 463h1v1h-1zM138 463h1v1h-1zM139 463h1v1h-1zM140 463h1v1h-1zM141 463h1v1h-1zM142 463h1v1h-1zM143 463h1v1h-1zM144 463h1v1h-1zM145 463h1v1h-1zM146 463h1v1h-1zM147 463h1v1h-1zM148 464h1v1h-1zM149 464h1v1h-1zM150 464h1v1h-1zM151 464h1v1h-1zM152 464h1v1h-1zM153 464h1v1h-1zM154 464h1v1h-1zM155 464h1v1h-1zM156 465h1v1h-1zM157 465h1v1h-1zM158 465h1v1h-1zM159 465h1v1h-1zM160 465h1v1h-1zM161 465h1v1h-1zM162 465h1v1h-1zM163 466h1v1h-1zM164 466h1v1h-1zM165 466h1v1h-1zM166 466h1v1h-1zM167 466h1v1h-1zM168 466h1v1h-1zM169 466h1v1h-1zM170 467h1v1h-1zM171 467h1v1h-1zM172 467h1v1h-1zM173 467h1v1h-1zM174 467h1v1h-1zM175 467h1v1h-1zM176 467h1v1h-1zM177 467h1v1h-1zM178 468h1v1h-1zM179 468h1v1h-1zM180 468h1v1h-1zM181 468h1v1h-1zM182 469h1v1h-1zM183 469h1v1h-1zM184 469h1v1h-1zM185 470h1v1h-1zM186 470h1v1h-1zM187 470h1v1h-1zM188 470h1v1h-1zM189 471h1v1h-1zM190 471h1v1h-1zM191 471h1v1h-1zM192 472h1v1h-1zM193 472h1v1h-1zM194 473h1v1h-1zM195 473h1v1h-1zM196 474h1v1h-1zM197 474h1v1h-1zM198 474h1v1h-1zM199 475h1v1h-1zM200 475h1v1h-1zM201 475h1v1h-1zM202 476h1v1h-1zM203 476h1v1h-1zM204 476h1v1h-1zM205 477h1v1h-1zM206 477h1v1h-1zM207 477h1v1h-1zM208 478h1v1h-1zM209 478h1v1h-1zM210 478h1v1h-1zM211 479h1v1h-1zM212 479h1v1h-1zM213 480h1v1h-1zM214 480h1v1h-1zM215 480h1v1h-1zM216 480h1v1h-1zM217 480h1v1h-1zM218 480h1v1h-1zM219 481h1v1h-1zM220 481h1v1h-1zM221 481h1v1h-1zM222 481h1v1h-1zM223 481h1v1h-1zM224 481h1v1h-1zM225 481h1v1h-1zM226 481h1v1h-1zM227 481h1v1h-1zM228 481h1v1h-1zM229 481h1v1h-1zM230 481h1v1h-1zM231 481h1v1h-1zM232 480h1v1h-1zM233 480h1v1h-1zM234 480h1v1h-1zM235 480h1v1h-1zM236 480h1v1h-1zM237 479h1v1h-1zM238 479h1v1h-1zM239 479h1v1h-1zM240 479h1v1h-1zM241 479h1v1h-1zM242 479h1v1h-1zM243 479h1v1h-1zM244 479h1v1h-1zM245 479h1v1h-1zM246 479h1v1h-1zM247 478h1v1h-1zM248 478h1v1h-1zM249 478h1v1h-1zM250 478h1v1h-1zM251 478h1v1h-1zM252 479h1v1h-1zM253 479h1v1h-1zM254 479h1v1h-1zM255 479h1v1h-1zM256 479h1v1h-1zM257 479h1v1h-1zM258 479h1v1h-1zM259 479h1v1h-1zM260 479h1v1h-1zM261 480h1v1h-1zM262 480h1v1h-1zM263 480h1v1h-1zM264 480h1v1h-1zM265 480h1v1h-1zM266 480h1v1h-1zM267 480h1v1h-1zM268 480h1v1h-1zM269 480h1v1h-1zM270 480h1v1h-1zM271 480h1v1h-1zM272 480h1v1h-1zM273 480h1v1h-1zM274 480h1v1h-1zM275 481h1v1h-1zM276 481h1v1h-1zM277 481h1v1h-1zM278 481h1v1h-1zM279 481h1v1h-1zM280 481h1v1h-1zM281 481h1v1h-1zM282 481h1v1h-1zM283 481h1v1h-1zM284 481h1v1h-1zM285 481h1v1h-1zM286 481h1v1h-1zM287 481h1v1h-1zM288 481h1v1h-1zM289 481h1v1h-1zM290 481h1v1h-1zM291 481h1v1h-1zM292 481h1v1h-1zM293 481h1v1h-1zM294 481h1v1h-1zM295 480h1v1h-1zM296 480h1v1h-1zM297 480h1v1h-1zM298 479h1v1h-1zM299 479h1v1h-1zM300 479h1v1h-1zM301 478h1v1h-1zM302 478h1v1h-1zM303 478h1v1h-1zM304 478h1v1h-1zM305 477h1v1h-1zM306 477h1v1h-1zM307 477h1v1h-1zM308 476h1v1h-1zM309 476h1v1h-1zM310 476h1v1h-1zM311 476h1v1h-1zM312 476h1v1h-1zM313 475h1v1h-1zM314 475h1v1h-1zM315 475h1v1h-1zM316 475h1v1h-1zM317 475h1v1h-1zM318 474h1v1h-1zM319 474h1v1h-1zM320 474h1v1h-1zM321 474h1v1h-1zM322 474h1v1h-1zM323 473h1v1h-1zM324 473h1v1h-1zM325 472h1v1h-1zM326 472h1v1h-1zM327 472h1v1h-1zM328 471h1v1h-1zM329 471h1v1h-1zM330 471h1v1h-1zM331 470h1v1h-1zM332 470h1v1h-1zM333 470h1v1h-1zM334 469h1v1h-1zM335 469h1v1h-1zM336 468h1v1h-1zM337 468h1v1h-1zM338 467h1v1h-1zM339 467h1v1h-1zM340 466h1v1h-1zM341 466h1v1h-1zM342 465h1v1h-1zM343 465h1v1h-1zM344 464h1v1h-1zM345 464h1v1h-1zM346 463h1v1h-1zM347 463h1v1h-1zM348 462h1v1h-1zM349 462h1v1h-1zM350 461h1v1h-1zM351 461h1v1h-1zM352 460h1v1h-1zM353 459h1v1h-1zM354 459h1v1h-1zM355 458h1v1h-1zM356 458h1v1h-1zM357 457h1v1h-1zM358 457h1v1h-1zM359 456h1v1h-1zM360 456h1v1h-1zM361 455h1v1h-1zM362 455h1v1h-1zM363 454h1v1h-1zM364 454h1v1h-1zM365 454h1v1h-1zM366 453h1v1h-1zM367 453h1v1h-1zM368 452h1v1h-1zM369 452h1v1h-1zM370 452h1v1h-1zM371 451h1v1h-1zM372 451h1v1h-1zM373 450h1v1h-1zM374 450h1v1h-1zM375 450h1v1h-1zM376 449h1v1h-1zM377 449h1v1h-1zM378 448h1v1h-1zM379 448h1v1h-1zM380 448h1v1h-1zM381 447h1v1h-1zM382 447h1v1h-1zM383 446h1v1h-1zM384 446h1v1h-1zM385 445h1v1h-1zM386 444h1v1h-1zM387 444h1v1h-1zM388 443h1v1h-1zM389 442h1v1h-1zM390 441h1v1h-1zM391 440h1v1h-1zM392 440h1v1h-1zM393 439h1v1h-1zM394 438h1v1h-1zM395 437h1v1h-1zM396 436h1v1h-1zM397 436h1v1h-1zM398 435h1v1h-1zM399 434h1v1h-1zM400 433h1v1h-1zM401 432h1v1h-1zM402 432h1v1h-1zM403 431h1v1h-1zM404 430h1v1h-1zM405 429h1v1h-1zM406 429h1v1h-1zM407 428h1v1h-1zM408 427h1v1h-1zM409 426h1v1h-1zM410 425h1v1h-1zM411 424h1v1h-1zM412 423h1v1h-1zM413 422h1v1h-1zM414 421h1v1h-1zM415 420h1v1h-1zM416 419h1v1h-1zM417 418h1v1h-1zM418 417h1v1h-1zM419 416h1v1h-1zM420 415h1v1h-1zM421 414h1v1h-1zM422 413h1v1h-1zM423 413h1v1h-1zM424 412h1v1h-1zM425 411h1v1h-1zM426 410h1v1h-1zM427 410h1v1h-1zM428 409h1v1h-1zM429 408h1v1h-1zM430 408h1v1h-1zM431 407h1v1h-1zM432 407h1v1h-1zM433 406h1v1h-1zM434 406h1v1h-1zM435 405h1v1h-1zM436 404h1v1h-1zM437 404h1v1h-1zM438 403h1v1h-1zM439 402h1v1h-1zM440 401h1v1h-1zM441 401h1v1h-1zM442 400h1v1h-1zM443 399h1v1h-1zM444 399h1v1h-1zM445 398h1v1h-1zM446 397h1v1h-1zM447 396h1v1h-1zM448 396h1v1h-1zM449 395h1v1h-1zM450 394h1v1h-1zM451 393h1v1h-1zM452 392h1v1h-1zM453 391h1v1h-1zM454 390h1v1h-1zM455 389h1v1h-1zM456 388h1v1h-1zM457 387h1v1h-1zM458 386h1v1h-1zM459 385h1v1h-1zM460 384h1v1h-1zM461 383h1v1h-1zM462 382h1v1h-1zM463 381h1v1h-1zM464 380h1v1h-1zM465 379h1v1h-1zM466 378h1v1h-1zM467 377h1v1h-1zM468 376h1v1h-1zM469 375h1v1h-1zM470 374h1v1h-1zM471 373h1v1h-1zM472 372h1v1h-1zM473 371h1v1h-1zM474 370h1v1h-1zM475 369h1v1h-1zM476 368h1v1h-1zM477 367h1v1h-1zM478 366h1v1h-1zM479 365h1v1h-1zM480 364h1v1h-1zM481 363h1v1h-1zM482 362h1v1h-1zM483 362h1v1h-1zM484 361h1v1h-1zM485 360h1v1h-1zM486 359h1v1h-1zM487 358h1v1h-1zM488 357h1v1h-1zM488 356h1v1h-1zM489 355h1v1h-1zM490 354h1v1h-1zM491 353h1v1h-1zM492 352h1v1h-1zM493 351h1v1h-1zM493 350h1v1h-1zM494 349h1v1h-1zM495 348h1v1h-1zM496 347h1v1h-1zM497 346h1v1h-1zM498 345h1v1h-1zM499 344h1v1h-1zM499 343h1v1h-1zM500 342h1v1h-1zM501 341h1v1h-1zM502 340h1v1h-1zM503 339h1v1h-1zM503 338h1v1h-1zM504 337h1v1h-1zM504 336h1v1h-1zM505 335h1v1h-1zM506 334h1v1h-1zM506 333h1v1h-1zM507 332h1v1h-1zM508 331h1v1h-1zM508 330h1v1h-1zM509 329h1v1h-1zM510 328h1v1h-1zM510 327h1v1h-1zM511 326h1v1h-1zM511 325h1v1h-1zM512 324h1v1h-1zM512 323h1v1h-1zM513 322h1v1h-1zM514 321h1v1h-1zM514 320h1v1h-1zM515 319h1v1h-1zM515 318h1v1h-1zM516 317h1v1h-1zM516 316h1v1h-1zM517 315h1v1h-1zM517 314h1v1h-1zM518 313h1v1h-1zM519 312h1v1h-1zM519 311h1v1h-1zM520 310h1v1h-1zM520 309h1v1h-1zM521 308h1v1h-1zM521 307h1v1h-1zM522 306h1v1h-1zM522 305h1v1h-1zM523 304h1v1h-1zM523 303h1v1h-1zM523 302h1v1h-1zM524 301h1v1h-1zM524 300h1v1h-1zM525 299h1v1h-1zM525 298h1v1h-1zM526 297h1v1h-1zM526 296h1v1h-1zM527 295h1v1h-1zM527 294h1v1h-1zM528 293h1v1h-1zM528 292h1v1h-1zM529 291h1v1h-1zM529 290h1v1h-1zM530 289h1v1h-1zM530 288h1v1h-1zM531 287h1v1h-1zM532 286h1v1h-1zM533 285h1v1h-1zM534 284h1v1h-1zM534 283h1v1h-1zM535 282h1v1h-1zM536 281h1v1h-1zM537 280h1v1h-1zM538 279h1v1h-1zM539 278h1v1h-1zM540 277h1v1h-1zM540 276h1v1h-1zM541 275h1v1h-1zM542 274h1v1h-1zM543 273h1v1h-1zM544 272h1v1h-1zM544 271h1v1h-1zM545 270h1v1h-1zM545 269h1v1h-1zM546 268h1v1h-1zM546 267h1v1h-1zM547 266h1v1h-1zM548 265h1v1h-1zM548 264h1v1h-1zM549 263h1v1h-1zM549 262h1v1h-1zM550 261h1v1h-1zM551 260h1v1h-1zM551 259h1v1h-1zM552 258h1v1h-1zM553 257h1v1h-1zM553 256h1v1h-1zM554 255h1v1h-1zM555 254h1v1h-1zM555 253h1v1h-1zM556 252h1v1h-1zM557 251h1v1h-1zM558 250h1v1h-1zM558 249h1v1h-1zM559 248h1v1h-1zM560 247h1v1h-1zM560 246h1v1h-1zM561 245h1v1h-1zM562 244h1v1h-1zM563 243h1v1h-1zM563 242h1v1h-1zM564 241h1v1h-1zM565 240h1v1h-1zM566 239h1v1h-1zM567 238h1v1h-1zM567 237h1v1h-1zM568 236h1v1h-1zM569 235h1v1h-1zM570 234h1v1h-1zM570 233h1v1h-1zM571 232h1v1h-1zM571 231h1v1h-1zM572 230h1v1h-1zM572 229h1v1h-1zM573 228h1v1h-1zM573 227h1v1h-1zM574 226h1v1h-1zM574 225h1v1h-1zM575 224h1v1h-1zM576 223h1v1h-1zM576 222h1v1h-1zM577 221h1v1h-1zM577 220h1v1h-1zM578 219h1v1h-1zM578 218h1v1h-1zM579 217h1v1h-1zM579 216h1v1h-1zM580 215h1v1h-1zM580 214h1v1h-1zM581 213h1v1h-1zM582 212h1v1h-1zM582 211h1v1h-1zM583 210h1v1h-1zM583 209h1v1h-1zM584 208h1v1h-1zM584 207h1v1h-1zM585 206h1v1h-1zM585 205h1v1h-1zM586 204h1v1h-1zM587 203h1v1h-1zM587 202h1v1h-1zM588 201h1v1h-1zM589 200h1v1h-1zM589 199h1v1h-1zM590 198h1v1h-1zM590 197h1v1h-1zM591 196h1v1h-1zM591 195h1v1h-1zM592 194h1v1h-1zM593 193h1v1h-1zM593 192h1v1h-1zM594 191h1v1h-1zM594 190h1v1h-1zM595 189h1v1h-1zM595 188h1v1h-1zM596 187h1v1h-1zM597 186h1v1h-1zM598 185h1v1h-1zM599 184h1v1h-1zM600 183h1v1h-1zM601 182h1v1h-1zM602 181h1v1h-1zM603 180h1v1h-1zM604 179h1v1h-1zM605 178h1v1h-1zM606 177h1v1h-1zM607 176h1v1h-1zM608 176h1v1h-1zM609 175h1v1h-1zM610 174h1v1h-1zM611 173h1v1h-1zM612 172h1v1h-1zM613 172h1v1h-1zM614 171h1v1h-1zM615 171h1v1h-1zM616 171h1v1h-1zM617 170h1v1h-1zM618 170h1v1h-1zM619 170h1v1h-1zM620 170h1v1h-1zM621 169h1v1h-1zM622 169h1v1h-1zM623 169h1v1h-1zM624 168h1v1h-1zM625 168h1v1h-1zM626 168h1v1h-1zM627 169h1v1h-1zM628 169h1v1h-1zM629 170h1v1h-1zM630 171h1v1h-1zM631 172h1v1h-1zM632 173h1v1h-1zM633 174h1v1h-1zM634 175h1v1h-1zM635 176h1v1h-1zM636 177h1v1h-1zM637 178h1v1h-1zM638 179h1v1h-1zM639 180h1v1h-1zM640 181h1v1h-1zM641 182h1v1h-1zM642 183h1v1h-1zM643 184h1v1h-1zM644 185h1v1h-1zM645 186h1v1h-1zM646 187h1v1h-1zM647 188h1v1h-1zM648 189h1v1h-1zM649 190h1v1h-1zM650 191h1v1h-1zM651 192h1v1h-1zM652 193h1v1h-1zM653 194h1v1h-1zM654 195h1v1h-1zM655 196h1v1h-1zM656 197h1v1h-1zM657 198h1v1h-1zM658 199h1v1h-1zM658 200h1v1h-1zM659 201h1v1h-1zM659 202h1v1h-1zM659 203h1v1h-1zM660 204h1v1h-1zM660 205h1v1h-1zM661 206h1v1h-1zM661 207h1v1h-1zM662 208h1v1h-1zM662 209h1v1h-1zM662 210h1v1h-1zM663 211h1v1h-1zM663 212h1v1h-1zM664 213h1v1h-1zM665 214h1v1h-1zM665 215h1v1h-1zM666 216h1v1h-1zM667 217h1v1h-1zM668 218h1v1h-1zM668 219h1v1h-1zM669 220h1v1h-1zM670 221h1v1h-1zM670 222h1v1h-1zM671 223h1v1h-1zM672 224h1v1h-1zM673 225h1v1h-1zM674 226h1v1h-1zM675 227h1v1h-1zM676 227h1v1h-1zM677 228h1v1h-1zM678 229h1v1h-1zM679 230h1v1h-1zM680 230h1v1h-1zM681 231h1v1h-1zM682 232h1v1h-1zM683 232h1v1h-1zM684 233h1v1h-1zM685 234h1v1h-1zM686 235h1v1h-1zM686 236h1v1h-1zM687 237h1v1h-1zM688 238h1v1h-1zM689 239h1v1h-1zM689 240h1v1h-1zM690 241h1v1h-1zM691 242h1v1h-1zM692 243h1v1h-1zM693 244h1v1h-1zM694 245h1v1h-1zM695 246h1v1h-1zM695 247h1v1h-1zM696 248h1v1h-1zM697 249h1v1h-1zM698 250h1v1h-1zM699 251h1v1h-1zM700 252h1v1h-1zM700 253h1v1h-1zM701 254h1v1h-1zM702 255h1v1h-1zM703 256h1v1h-1zM703 257h1v1h-1zM704 258h1v1h-1zM705 259h1v1h-1zM706 260h1v1h-1zM706 261h1v1h-1zM707 262h1v1h-1zM708 263h1v1h-1zM708 264h1v1h-1zM709 265h1v1h-1zM709 266h1v1h-1zM710 267h1v1h-1zM711 268h1v1h-1zM711 269h1v1h-1zM712 270h1v1h-1zM712 271h1v1h-1zM713 272h1v1h-1zM714 273h1v1h-1zM714 274h1v1h-1zM715 275h1v1h-1zM715 276h1v1h-1zM716 277h1v1h-1zM717 278h1v1h-1zM717 279h1v1h-1zM718 280h1v1h-1zM719 281h1v1h-1zM720 282h1v1h-1zM720 283h1v1h-1zM721 284h1v1h-1zM721 285h1v1h-1zM722 286h1v1h-1zM722 287h1v1h-1zM723 288h1v1h-1zM723 289h1v1h-1zM724 290h1v1h-1zM724 291h1v1h-1zM725 292h1v1h-1zM725 293h1v1h-1zM726 294h1v1h-1zM726 295h1v1h-1zM727 296h1v1h-1zM728 297h1v1h-1zM729 298h1v1h-1zM730 299h1v1h-1zM731 300h1v1h-1zM732 301h1v1h-1zM733 302h1v1h-1zM734 303h1v1h-1zM735 304h1v1h-1zM736 305h1v1h-1zM737 306h1v1h-1zM738 307h1v1h-1zM739 308h1v1h-1zM740 308h1v1h-1zM741 308h1v1h-1zM742 308h1v1h-1zM743 308h1v1h-1zM744 308h1v1h-1zM745 308h1v1h-1zM746 308h1v1h-1zM747 309h1v1h-1zM748 309h1v1h-1zM749 310h1v1h-1zM750 311h1v1h-1zM751 312h1v1h-1zM752 312h1v1h-1zM753 313h1v1h-1zM754 314h1v1h-1zM755 315h1v1h-1zM756 315h1v1h-1zM757 316h1v1h-1zM758 317h1v1h-1zM759 317h1v1h-1zM760 318h1v1h-1zM761 318h1v1h-1zM762 319h1v1h-1zM763 320h1v1h-1zM764 320h1v1h-1zM765 321h1v1h-1zM766 321h1v1h-1zM767 322h1v1h-1zM768 323h1v1h-1zM769 323h1v1h-1zM770 323h1v1h-1zM771 323h1v1h-1zM772 323h1v1h-1zM773 323h1v1h-1zM774 322h1v1h-1zM775 322h1v1h-1zM776 322h1v1h-1zM777 321h1v1h-1zM778 321h1v1h-1zM779 320h1v1h-1zM780 320h1v1h-1zM781 319h1v1h-1zM782 319h1v1h-1zM783 319h1v1h-1zM784 319h1v1h-1zM785 319h1v1h-1zM786 319h1v1h-1zM787 319h1v1h-1zM788 318h1v1h-1zM789 318h1v1h-1zM790 318h1v1h-1zM791 318h1v1h-1zM792 318h1v1h-1zM793 318h1v1h-1zM794 317h1v1h-1zM795 317h1v1h-1zM796 317h1v1h-1zM797 317h1v1h-1zM798 316h1v1h-1zM799 316h1v1h-1zM800 316h1v1h-1zM801 315h1v1h-1zM802 315h1v1h-1zM803 315h1v1h-1zM804 315h1v1h-1zM805 315h1v1h-1zM806 315h1v1h-1zM807 315h1v1h-1zM808 315h1v1h-1zM809 315h1v1h-1zM810 315h1v1h-1zM811 315h1v1h-1zM812 315h1v1h-1zM813 315h1v1h-1zM814 315h1v1h-1zM815 315h1v1h-1zM816 315h1v1h-1zM817 315h1v1h-1zM818 315h1v1h-1zM819 315h1v1h-1zM820 315h1v1h-1zM821 315h1v1h-1zM822 315h1v1h-1zM823 315h1v1h-1zM824 315h1v1h-1zM825 315h1v1h-1zM826 315h1v1h-1zM827 314h1v1h-1zM828 314h1v1h-1zM829 314h1v1h-1zM830 314h1v1h-1zM831 313h1v1h-1zM832 313h1v1h-1zM833 312h1v1h-1zM834 312h1v1h-1zM835 311h1v1h-1zM836 310h1v1h-1zM837 310h1v1h-1zM838 309h1v1h-1zM839 309h1v1h-1zM840 308h1v1h-1zM841 308h1v1h-1zM842 307h1v1h-1zM843 307h1v1h-1zM844 307h1v1h-1zM845 306h1v1h-1zM846 306h1v1h-1zM847 305h1v1h-1zM848 305h1v1h-1zM849 305h1v1h-1zM850 305h1v1h-1zM851 305h1v1h-1zM852 305h1v1h-1zM853 305h1v1h-1zM854 305h1v1h-1zM855 305h1v1h-1zM856 305h1v1h-1zM857 305h1v1h-1zM858 305h1v1h-1zM859 305h1v1h-1zM860 306h1v1h-1zM861 306h1v1h-1zM862 306h1v1h-1zM863 307h1v1h-1zM864 307h1v1h-1zM865 307h1v1h-1zM866 308h1v1h-1zM867 308h1v1h-1zM868 308h1v1h-1zM869 309h1v1h-1zM870 309h1v1h-1zM871 310h1v1h-1zM872 310h1v1h-1zM873 311h1v1h-1zM874 311h1v1h-1zM875 312h1v1h-1zM876 313h1v1h-1zM877 313h1v1h-1zM878 314h1v1h-1zM879 314h1v1h-1zM880 315h1v1h-1zM881 316h1v1h-1zM882 316h1v1h-1zM883 317h1v1h-1zM884 318h1v1h-1zM885 318h1v1h-1zM886 319h1v1h-1zM887 319h1v1h-1z" fill="#961414" shape-rendering="crispEdges"/>
<g shape-rendering="crispEdges" fill="#000">
<rect x="18" y="22" width="879" height="1"/>
<rect x="18" y="525" width="879" height="1"/>
<rect x="18" y="22" width="1" height="504"/>
<rect x="896" y="22" width="1" height="504"/>
<rect x="16" y="27" width="2" height="1"/>
<rect x="897" y="27" width="2" height="1"/>
<rect x="16" y="35" width="2" height="1"/>
<rect x="897" y="35" width="2" height="1"/>
<rect x="16" y="43" width="2" height="1"/>
<rect x="897" y="43" width="2" height="1"/>
<rect x="16" y="51" width="2" height="1"/>
<rect x="897" y="51" width="2" height="1"/>
<rect x="16" y="69" width="2" height="1"/>
<rect x="897" y="69" width="2" height="1"/>
<rect x="16" y="77" width="2" height="1"/>
<rect x="897" y="77" width="2" height="1"/>
<rect x="16" y="85" width="2" height="1"/>
<rect x="897" y="85" width="2" height="1"/>
<rect x="16" y="93" width="2" height="1"/>
<rect x="897" y="93" width="2" height="1"/>
<rect x="16" y="101" width="2" height="1"/>
<rect x="897" y="101" width="2" height="1"/>
<rect x="16" y="110" width="2" height="1"/>
<rect x="897" y="110" width="2" height="1"/>
<rect x="16" y="118" width="2" height="1"/>
<rect x="897" y="118" width="2" height="1"/>
<rect x="16" y="126" width="2" height="1"/>
<rect x="897" y="126" width="2" height="1"/>
<rect x="16" y="134" width="2" height="1"/>
<rect x="897" y="134" width="2" height="1"/>
<rect x="16" y="152" width="2" height="1"/>
<rect x="897" y="152" width="2" height="1"/>
<rect x="16" y="160" width="2" height="1"/>
<rect x="897" y="160" width="2" height="1"/>
<rect x="16" y="168" width="2" height="1"/>
<rect x="897" y="168" width="2" height="1"/>
<rect x="16" y="176" width="2" height="1"/>
<rect x="897" y="176" width="2" height="1"/>
<rect x="16" y="184" width="2" height="1"/>
<rect x="897" y="184" width="2" height="1"/>
<rect x="16" y="193" width="2" height="1"/>
<rect x="897" y="193" width="2" height="1"/>
<rect x="16" y="201" width="2" height="1"/>
<rect x="897" y="201" width="2" height="1"/>
<rect x="16" y="209" width="2" height="1"/>
<rect x="897" y="209" width="2" height="1"/>
<rect x="16" y="217" width="2" height="1"/>
<rect x="897" y="217" width="2" height="1"/>
<rect x="16" y="235" width="2" height="1"/>
<rect x="897" y="235" width="2" height="1"/>
<rect x="16" y="243" width="2" height="1"/>
<rect x="897" y="243" width="2" height="1"/>
<rect x="16" y="251" width="2" height="1"/>
<rect x="897" y="251" width="2" height="1"/>
<rect x="16" y="259" width="2" height="1"/>
<rect x="897" y="259" width="2" height="1"/>
<rect x="16" y="267" width="2" height="1"/>
<rect x="897" y="267" width="2" height="1"/>
<rect x="16" y="276" width="2" height="1"/>
<rect x="897" y="276" width="2" height="1"/>
<rect x="16" y="284" width="2" height="1"/>
<rect x="897" y="284" width="2" height="1"/>
<rect x="16" y="292" width="2" height="1"/>
<rect x="897" y="292" width="2" height="1"/>
<rect x="16" y="300" width="2" height="1"/>
<rect x="897" y="300" width="2" height="1"/>
<rect x="16" y="317" width="2" height="1"/>
<rect x="897" y="317" width="2" height="1"/>
<rect x="16" y="325" width="2" height="1"/>
<rect x="897" y="325" width="2" height="1"/>
<rect x="16" y="333" width="2" height="1"/>
<rect x="897" y="333" width="2" height="1"/>
<rect x="16" y="341" width="2" height="1"/>
<rect x="897" y="341" width="2" height="1"/>
<rect x="16" y="349" width="2" height="1"/>
<rect x="897" y="349" width="2" height="1"/>
<rect x="16" y="358" width="2" height="1"/>
<rect x="897" y="358" width="2" height="1"/>
<rect x="16" y="366" width="2" height="1"/>
<rect x="897" y="366" width="2" height="1"/>
<rect x="16" y="374" width="2" height="1"/>
<rect x="897" y="374" width="2" height="1"/>
<rect x="16" y="382" width="2" height="1"/>
<rect x="897" y="382" width="2" height="1"/>
<rect x="16" y="400" width="2" height="1"/>
<rect x="897" y="400" width="2" height="1"/>
<rect x="16" y="408" width="2" height="1"/>
<rect x="897" y="408" width="2" height="1"/>
<rect x="16" y="416" width="2" height="1"/>
<rect x="897" y="416" width="2" height="1"/>
<rect x="16" y="424" width="2" height="1"/>
<rect x="897" y="424" width="2" height="1"/>
<rect x="16" y="432" width="2" height="1"/>
<rect x="897" y="432" width="2" height="1"/>
<rect x="16" y="441" width="2" height="1"/>
<rect x="897" y="441" width="2" height="1"/>
<rect x="16" y="449" width="2" height="1"/>
<rect x="897" y="449" width="2" height="1"/>
<rect x="16" y="457" width="2" height="1"/>
<rect x="897" y="457" width="2" height="1"/>
<rect x="16" y="465" width="2" height="1"/>
<rect x="897" y="465" width="2" height="1"/>
<rect x="16" y="483" width="2" height="1"/>
<rect x="897" y="483" width="2" height="1"/>
<rect x="16" y="491" width="2" height="1"/>
<rect x="897" y="491" width="2" height="1"/>
<rect x="16" y="499" width="2" height="1"/>
<rect x="897" y="499" width="2" height="1"/>
<rect x="16" y="507" width="2" height="1"/>
<rect x="897" y="507" width="2" height="1"/>
<rect x="16" y="515" width="2" height="1"/>
<rect x="897" y="515" width="2" height="1"/>
<rect x="16" y="524" width="2" height="1"/>
<rect x="897" y="524" width="2" height="1"/>
<rect x="16" y="61" width="2" height="1"/>
<rect x="897" y="61" width="2" height="1"/>
<rect x="16" y="144" width="2" height="1"/>
<rect x="897" y="144" width="2" height="1"/>
<rect x="16" y="227" width="2" height="1"/>
<rect x="897" y="227" width="2" height="1"/>
<rect x="16" y="309" width="2" height="1"/>
<rect x="897" y="309" width="2" height="1"/>
<rect x="16" y="392" width="2" height="1"/>
<rect x="897" y="392" width="2" height="1"/>
<rect x="16" y="475" width="2" height="1"/>
<rect x="897" y="475" width="2" height="1"/>
<rect x="32" y="526" width="1" height="1"/>
<rect x="46" y="526" width="1" height="1"/>
<rect x="61" y="526" width="1" height="2"/>
<rect x="75" y="526" width="1" height="1"/>
<rect x="90" y="526" width="1" height="1"/>
<rect x="105" y="526" width="1" height="2"/>
<rect x="119" y="526" width="1" height="1"/>
<rect x="134" y="526" width="1" height="1"/>
<rect x="149" y="526" width="1" height="2"/>
<rect x="163" y="526" width="1" height="1"/>
<rect x="178" y="526" width="1" height="1"/>
<rect x="192" y="526" width="1" height="2"/>
<rect x="206" y="526" width="1" height="1"/>
<rect x="221" y="526" width="1" height="1"/>
<rect x="235" y="526" width="1" height="2"/>
<rect x="250" y="526" width="1" height="1"/>
<rect x="265" y="526" width="1" height="1"/>
<rect x="280" y="526" width="1" height="2"/>
<rect x="294" y="526" width="1" height="1"/>
<rect x="308" y="526" width="1" height="1"/>
<rect x="322" y="526" width="1" height="2"/>
<rect x="337" y="526" width="1" height="1"/>
<rect x="352" y="526" width="1" height="1"/>
<rect x="367" y="526" width="1" height="2"/>
<rect x="381" y="526" width="1" height="1"/>
<rect x="395" y="526" width="1" height="1"/>
<rect x="410" y="526" width="1" height="2"/>
<rect x="424" y="526" width="1" height="1"/>
<rect x="440" y="526" width="1" height="1"/>
<rect x="453" y="526" width="1" height="2"/>
<rect x="468" y="526" width="1" height="1"/>
<rect x="482" y="526" width="1" height="1"/>
<rect x="497" y="526" width="1" height="2"/>
<rect x="513" y="526" width="1" height="1"/>
<rect x="527" y="526" width="1" height="1"/>
<rect x="541" y="526" width="1" height="2"/>
<rect x="555" y="526" width="1" height="1"/>
<rect x="570" y="526" width="1" height="1"/>
<rect x="584" y="526" width="1" height="2"/>
<rect x="600" y="526" width="1" height="1"/>
<rect x="614" y="526" width="1" height="1"/>
<rect x="628" y="526" width="1" height="2"/>
<rect x="644" y="526" width="1" height="1"/>
<rect x="657" y="526" width="1" height="1"/>
<rect x="673" y="526" width="1" height="2"/>
<rect x="688" y="526" width="1" height="1"/>
<rect x="701" y="526" width="1" height="1"/>
<rect x="715" y="526" width="1" height="2"/>
<rect x="730" y="526" width="1" height="1"/>
<rect x="744" y="526" width="1" height="1"/>
<rect x="759" y="526" width="1" height="2"/>
<rect x="775" y="526" width="1" height="1"/>
<rect x="788" y="526" width="1" height="1"/>
<rect x="803" y="526" width="1" height="2"/>
<rect x="819" y="526" width="1" height="1"/>
<rect x="832" y="526" width="1" height="1"/>
<rect x="847" y="526" width="1" height="2"/>
<rect x="861" y="526" width="1" height="1"/>
<rect x="875" y="526" width="1" height="1"/>
</g>
<rect x="20" y="28" width="51" height="31" fill="#fff"/>
<g font-family="Liberation Sans, Arial, sans-serif">
<text transform="matrix(0.9355 0 0 1 17.95 0)" x="0" y="13.9" font-size="15.4" fill="#000">Soybeans</text>
<text transform="matrix(0.9828 0 0 1 87.09 0)" x="0" y="13.9" font-size="15.4" fill="#000">CBT</text>
<text transform="matrix(0.8204 0 0 1 122.62 0)" x="0" y="13.9" font-size="15.4" fill="#000">1st</text>
<text transform="matrix(0.9356 0 0 1 144.50 0)" x="0" y="13.9" font-size="15.4" fill="#000">Month</text>
<text transform="matrix(0.9245 0 0 1 188.44 0)" x="0" y="13.9" font-size="15.4" fill="#000">Continuation</text>
<text transform="matrix(0.9836 0 0 1 272.62 0)" x="0" y="13.9" font-size="15.4" fill="#000">(S</text>
<text transform="matrix(0.8929 0 0 1 291.84 0)" x="0" y="13.9" font-size="15.4" fill="#000">1)</text>
<text transform="matrix(0.9338 0 0 1 308.85 0)" x="0" y="13.9" font-size="15.4" fill="#000">968</text>
<text transform="matrix(0.9586 0 0 1 336.43 0)" x="0" y="13.9" font-size="15.4" fill="#cc0000">-0.50</text>
<text transform="matrix(0.9809 0 0 1 650.47 0)" x="0" y="13.9" font-size="15.4" fill="#000">www.fullermoney.com</text>
<text transform="matrix(0.9215 0 0 1 816.48 0)" x="0" y="13.9" font-size="15.4" fill="#000">23</text>
<text transform="matrix(0.9406 0 0 1 835.39 0)" x="0" y="13.9" font-size="15.4" fill="#000">Mar</text>
<text transform="matrix(0.9070 0 0 1 864.39 0)" x="0" y="13.9" font-size="15.4" fill="#000">2010</text>
<text transform="matrix(1.0121 0 0 1 22.02 0)" x="0" y="40.2" font-size="14.0" fill="#0000f0">Weekly</text>
<text transform="matrix(0.9860 0 0 1 21.34 0)" x="0" y="57.2" font-size="14.0" fill="#a52020">MA</text>
<text transform="matrix(1.0107 0 0 1 46.19 0)" x="0" y="57.2" font-size="14.0" fill="#a52020">200</text>
<text transform="matrix(0.9973 0 0 1 900.39 0)" x="0" y="66.7" font-size="14.3" fill="#000">1600</text>
<text transform="matrix(0.9973 0 0 1 900.39 0)" x="0" y="149.7" font-size="14.3" fill="#000">1400</text>
<text transform="matrix(0.9973 0 0 1 900.39 0)" x="0" y="232.7" font-size="14.3" fill="#000">1200</text>
<text transform="matrix(0.9973 0 0 1 900.39 0)" x="0" y="314.7" font-size="14.3" fill="#000">1000</text>
<text transform="matrix(0.9847 0 0 1 900.02 0)" x="0" y="397.7" font-size="14.3" fill="#000">800</text>
<text transform="matrix(0.9874 0 0 1 899.96 0)" x="0" y="480.7" font-size="14.3" fill="#000">600</text>
<text transform="matrix(0.9822 0 0 1 51.54 0)" x="0" y="539.8" font-size="14.3" fill="#000">Jul</text>
<text transform="matrix(0.9872 0 0 1 94.14 0)" x="0" y="539.8" font-size="14.3" fill="#000">Oct</text>
<text transform="matrix(0.9995 0 0 1 135.03 0)" x="0" y="539.8" font-size="14.3" fill="#000">2006</text>
<text transform="matrix(0.9965 0 0 1 181.10 0)" x="0" y="539.8" font-size="14.3" fill="#000">Apr</text>
<text transform="matrix(0.9822 0 0 1 225.44 0)" x="0" y="539.8" font-size="14.3" fill="#000">Jul</text>
<text transform="matrix(0.9872 0 0 1 269.04 0)" x="0" y="539.8" font-size="14.3" fill="#000">Oct</text>
<text transform="matrix(1.0014 0 0 1 308.03 0)" x="0" y="539.8" font-size="14.3" fill="#000">2007</text>
<text transform="matrix(0.9965 0 0 1 356.10 0)" x="0" y="539.8" font-size="14.3" fill="#000">Apr</text>
<text transform="matrix(0.9822 0 0 1 400.34 0)" x="0" y="539.8" font-size="14.3" fill="#000">Jul</text>
<text transform="matrix(0.9872 0 0 1 442.04 0)" x="0" y="539.8" font-size="14.3" fill="#000">Oct</text>
<text transform="matrix(1.0003 0 0 1 483.23 0)" x="0" y="539.8" font-size="14.3" fill="#000">2008</text>
<text transform="matrix(0.9965 0 0 1 530.10 0)" x="0" y="539.8" font-size="14.3" fill="#000">Apr</text>
<text transform="matrix(0.9822 0 0 1 574.34 0)" x="0" y="539.8" font-size="14.3" fill="#000">Jul</text>
<text transform="matrix(0.9872 0 0 1 617.04 0)" x="0" y="539.8" font-size="14.3" fill="#000">Oct</text>
<text transform="matrix(1.0005 0 0 1 659.23 0)" x="0" y="539.8" font-size="14.3" fill="#000">2009</text>
<text transform="matrix(0.9965 0 0 1 704.00 0)" x="0" y="539.8" font-size="14.3" fill="#000">Apr</text>
<text transform="matrix(0.9822 0 0 1 749.64 0)" x="0" y="539.8" font-size="14.3" fill="#000">Jul</text>
<text transform="matrix(0.9872 0 0 1 792.34 0)" x="0" y="539.8" font-size="14.3" fill="#000">Oct</text>
<text transform="matrix(0.9977 0 0 1 833.03 0)" x="0" y="539.8" font-size="14.3" fill="#000">2010</text>
<text transform="matrix(1.1845 0 0 1 759.29 0)" x="0" y="554.7" font-size="9.6" fill="#868686">©</text>
<text transform="matrix(0.9280 0 0 1 769.69 0)" x="0" y="554.7" font-size="9.6" fill="#868686">2010</text>
<text transform="matrix(0.9678 0 0 1 793.16 0)" x="0" y="554.7" font-size="9.6" fill="#868686">Stockcube</text>
<text transform="matrix(0.9551 0 0 1 840.15 0)" x="0" y="554.7" font-size="9.6" fill="#868686">Research</text>
<text transform="matrix(0.9080 0 0 1 883.29 0)" x="0" y="554.7" font-size="9.6" fill="#868686">Ltd</text>
</g>
</svg>
</body></html>
